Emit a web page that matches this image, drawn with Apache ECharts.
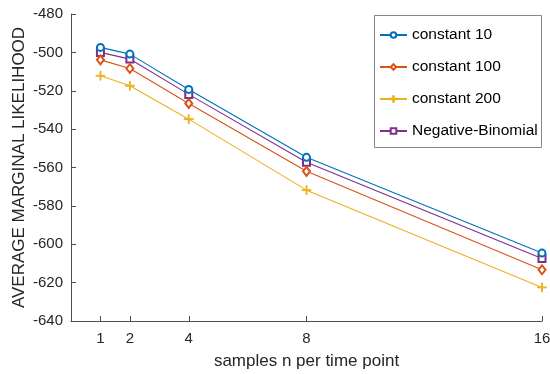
<!DOCTYPE html>
<html>
<head>
<meta charset="utf-8">
<script src="https://cdn.jsdelivr.net/npm/echarts@6/dist/echarts.min.js"></script>
<style>
html,body{margin:0;padding:0;background:#fff;}
#chart{width:550px;height:374px;}
</style>
</head>
<body>
<div id="chart"></div>
<script>
var samples = [1, 2, 4, 8, 16];
var xTicks = [1, 2, 4, 8, 16];
var yTicks = [-640, -620, -600, -580, -560, -540, -520, -500, -480];
var seriesNames = ['constant 10', 'constant 100', 'constant 200', 'Negative-Binomial'];
var constant10 = [-497.4, -500.9, -519.3, -554.7, -604.6];
var constant100 = [-503.9, -508.4, -526.6, -562.0, -613.3];
var constant200 = [-512.2, -517.4, -534.8, -571.8, -622.5];
var negBinomial = [-500.0, -503.5, -521.9, -557.3, -607.4];

var colors = ['#0072BD', '#D95319', '#EDB120', '#7E2F8E'];
var plusPath = 'path://M4.5,0 h1 v4.5 h4.5 v1 h-4.5 v4.5 h-1 v-4.5 h-4.5 v-1 h4.5z';
var symbols = ['emptyCircle', 'emptyDiamond', plusPath, 'emptyRect'];
var symbolSizes = [7, [7, 9], 9, 7];
var allData = [constant10, constant100, constant200, negBinomial];

function pairs(vals) {
  return samples.map(function (s, i) { return [s, vals[i]]; });
}

var font = '"Liberation Sans", Arial, Helvetica, sans-serif';
var axisColor = '#4d4d4d';
var textColor = '#262626';

var chart = echarts.init(document.getElementById('chart'), null, {renderer: 'canvas'});
chart.setOption({
  animation: false,
  backgroundColor: '#fff',
  grid: {left: 71, right: 8, top: 14, bottom: 53, containLabel: false, outerBoundsMode: 'none'},
  graphic: [{
    type: 'rect',
    shape: {x: 374.5, y: 15.5, width: 167, height: 132},
    style: {fill: '#fff', stroke: '#888', lineWidth: 1},
    z: 50
  }],
  legend: {
    orient: 'vertical',
    left: 374,
    top: 16,
    padding: [11, 5, 10, 5],
    itemWidth: 27,
    itemHeight: 7,
    itemGap: 16,
    z: 60,
    textStyle: {fontFamily: font, fontSize: 15.5, color: '#000', lineHeight: 16},
    data: seriesNames
  },
  xAxis: {
    type: 'value',
    min: 0,
    max: 16,
    name: 'samples n per time point',
    nameLocation: 'middle',
    nameGap: 32,
    nameMoveOverlap: false,
    nameTextStyle: {fontFamily: font, fontSize: 17, color: textColor},
    axisLine: {show: true, onZero: false, lineStyle: {color: axisColor, width: 1}},
    axisTick: {show: true, inside: true, length: 5, customValues: xTicks, lineStyle: {color: axisColor}},
    axisLabel: {show: true, customValues: xTicks, margin: 10, fontFamily: font, fontSize: 15, color: textColor},
    splitLine: {show: false}
  },
  yAxis: {
    type: 'value',
    min: -640,
    max: -480,
    interval: 20,
    name: 'AVERAGE MARGINAL LIKELIHOOD',
    nameLocation: 'middle',
    nameGap: 43,
    nameMoveOverlap: false,
    nameTextStyle: {fontFamily: font, fontSize: 17, color: textColor},
    axisLine: {show: true, onZero: false, lineStyle: {color: axisColor, width: 1}},
    axisTick: {show: true, inside: true, length: 5, lineStyle: {color: axisColor}},
    axisLabel: {show: true, margin: 8, fontFamily: font, fontSize: 15, color: textColor,
      formatter: function (v) { return yTicks.indexOf(v) >= 0 ? String(v) : ''; }},
    splitLine: {show: false}
  },
  series: seriesNames.map(function (name, i) {
    return {
      name: name,
      type: 'line',
      data: pairs(allData[i]),
      symbol: symbols[i],
      symbolSize: symbolSizes[i],
      showAllSymbol: true,
      color: colors[i],
      lineStyle: {color: colors[i], width: 1.1},
      itemStyle: {color: colors[i], borderColor: colors[i], borderWidth: 1},
      z: 10 - i
    };
  })
});
</script>
</body>
</html>
